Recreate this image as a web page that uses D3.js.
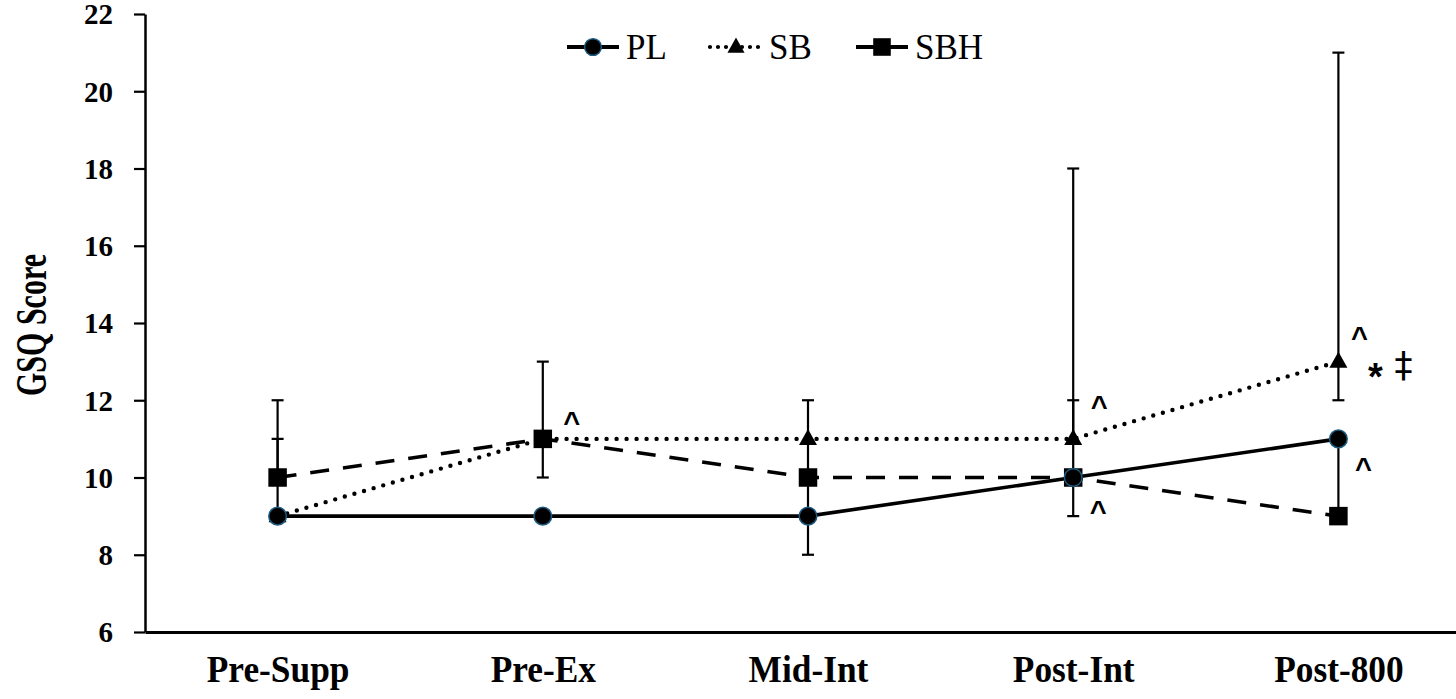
<!DOCTYPE html>
<html>
<head>
<meta charset="utf-8">
<script src="https://cdn.jsdelivr.net/npm/d3@7/dist/d3.min.js"></script>
<style>
  html, body { margin: 0; padding: 0; background: #fff; }
  svg { display: block; }
</style>
</head>
<body>
<svg id="chart" width="1456" height="699"></svg>
<script>
// ---- data ----
const categories = ["Pre-Supp", "Pre-Ex", "Mid-Int", "Post-Int", "Post-800"];
const yTicks = [6, 8, 10, 12, 14, 16, 18, 20, 22];

const PL  = [9, 9, 9, 10, 11];
const SB  = [9, 11, 11, 11, 13];
const SBH = [10, 11, 10, 10, 9];

const PL_up  = [0, 0, 0, 2, 0];
const PL_lo  = [0, 0, 0, 0, 2];
const SB_up  = [2, 0, 0, 7, 8];
const SB_lo  = [0, 1, 0, 0, 1];
const SBH_up = [2, 2, 2, 0, 0];
const SBH_lo = [0, 0, 2, 1, 0];

const seriesNames = ["PL", "SB", "SBH"];

const annotCats   = ["Pre-Ex", "Post-Int", "Post-Int", "Post-800", "Post-800", "Post-800", "Post-800"];
const annotValues = [11.6, 12.0, 9.3, 13.8, 10.4, 12.85, 12.95];
const annotTexts  = ["^", "^", "^", "^", "^", "*", "\u2021"];

// ---- layout ----
const svg = d3.select("#chart");

const x = d3.scalePoint().domain(categories).range([145, 1471]).padding(0.5);
const y = d3.scaleLinear().domain([6, 22]).range([632, 14]);

const serif = "'Liberation Serif', 'Times New Roman', serif";

// y axis
const yAxis = svg.append("g")
  .attr("transform", "translate(145,0)")
  .call(d3.axisLeft(y).tickValues(yTicks).tickSize(11).tickSizeOuter(0).tickPadding(21));
yAxis.select(".domain").attr("stroke", "#000").attr("stroke-width", 2.5);
yAxis.selectAll(".tick line").attr("stroke", "#000").attr("stroke-width", 2.2);
yAxis.selectAll(".tick text")
  .attr("font-family", serif).attr("font-weight", "bold").attr("font-size", 29)
  .attr("fill", "#000").attr("dy", "0.34em");

// x axis
const xAxis = svg.append("g")
  .attr("transform", "translate(0,632)")
  .call(d3.axisBottom(x).tickSize(0).tickSizeOuter(0).tickPadding(23));
xAxis.select(".domain").attr("stroke", "#000").attr("stroke-width", 3);
xAxis.selectAll(".tick text")
  .attr("font-family", serif).attr("font-weight", "bold").attr("font-size", 38)
  .attr("fill", "#000").attr("dy", "0.71em")
  .attr("transform", "scale(0.93,1)");

// y label
svg.append("text")
  .attr("transform", "translate(46,325) rotate(-90)")
  .attr("text-anchor", "middle")
  .attr("font-family", serif).attr("font-weight", "bold").attr("font-size", 44)
  .attr("textLength", 142).attr("lengthAdjust", "spacingAndGlyphs")
  .attr("fill", "#000")
  .text("GSQ Score");

// ---- series ----
const seriesData = {
  PL:  { vals: PL,  up: PL_up,  lo: PL_lo },
  SB:  { vals: SB,  up: SB_up,  lo: SB_lo },
  SBH: { vals: SBH, up: SBH_up, lo: SBH_lo }
};
const lineStyle = {
  PL:  { dash: null,    cap: "butt",  w: 3.6 },
  SB:  { dash: "0,10",  cap: "round", w: 4.4 },
  SBH: { dash: "19,14", cap: "butt",  w: 3.6 }
};

const line = d3.line().x((d, i) => x(categories[i])).y(d => y(d));

// lines
["SBH", "SB", "PL"].forEach(name => {
  const st = lineStyle[name];
  svg.append("path")
    .datum(seriesData[name].vals)
    .attr("d", line)
    .attr("fill", "none")
    .attr("stroke", "#000")
    .attr("stroke-width", st.w)
    .attr("stroke-linecap", st.cap)
    .attr("stroke-dasharray", st.dash);
});

// error bars
const capW = 6;
seriesNames.forEach(name => {
  const s = seriesData[name];
  s.vals.forEach((v, i) => {
    const cx = x(categories[i]);
    const ends = [];
    if (s.up[i] > 0) ends.push(v + s.up[i]);
    if (s.lo[i] > 0) ends.push(v - s.lo[i]);
    ends.forEach(e => {
      svg.append("line")
        .attr("x1", cx).attr("x2", cx)
        .attr("y1", y(v)).attr("y2", y(e))
        .attr("stroke", "#000").attr("stroke-width", 2.2);
      svg.append("line")
        .attr("x1", cx - capW).attr("x2", cx + capW)
        .attr("y1", y(e)).attr("y2", y(e))
        .attr("stroke", "#000").attr("stroke-width", 2.2);
    });
  });
});

// markers
function drawMarker(g, name, cx, cy, scale) {
  scale = scale || 1;
  if (name === "PL") {
    g.append("circle").attr("cx", cx).attr("cy", cy).attr("r", 8.8 * scale)
      .attr("fill", "#000").attr("stroke", "#1d5a80").attr("stroke-width", 1.5);
  } else if (name === "SB") {
    const w = 18 * scale, h = 16 * scale;
    g.append("path")
      .attr("d", `M${cx},${cy - h * 0.62} L${cx + w / 2},${cy + h * 0.38} L${cx - w / 2},${cy + h * 0.38} Z`)
      .attr("fill", "#000");
  } else {
    const s = 18.5 * scale;
    g.append("rect").attr("x", cx - s / 2).attr("y", cy - s / 2)
      .attr("width", s).attr("height", s).attr("fill", "#000");
  }
}

const markG = svg.append("g");
["SBH", "SB", "PL"].forEach(name => {
  seriesData[name].vals.forEach((v, i) => {
    drawMarker(markG, name, x(categories[i]), y(v));
  });
});

// annotations
const annotDx = [29, 26, 25, 21, 25, 37, 65];
annotTexts.forEach((t, i) => {
  const cx = x(annotCats[i]) + annotDx[i];
  const cy = y(annotValues[i]);
  if (t === "^") {
    svg.append("text")
      .attr("x", cx).attr("y", cy + 16)
      .attr("text-anchor", "middle")
      .attr("font-family", "'Liberation Sans', Arial, sans-serif")
      .attr("font-weight", "bold").attr("font-size", 29)
      .attr("fill", "#000").text(t);
  } else if (t === "*") {
    svg.append("text")
      .attr("x", cx).attr("y", cy + 23)
      .attr("text-anchor", "middle")
      .attr("font-family", "'Liberation Sans', Arial, sans-serif")
      .attr("font-weight", "bold").attr("font-size", 38)
      .attr("fill", "#000").text(t);
  } else {
    svg.append("text")
      .attr("x", cx).attr("y", cy + 13)
      .attr("text-anchor", "middle")
      .attr("font-family", "'DejaVu Sans', sans-serif")
      .attr("font-size", 36)
      .attr("fill", "#000").text(t);
  }
});

// legend
const legend = svg.append("g");
const legX = [567, 710, 856];
const legY = 47;
seriesNames.forEach((name, i) => {
  const x0 = legX[i], x1 = x0 + 52, xm = (x0 + x1) / 2;
  legend.append("line")
    .attr("x1", x0).attr("x2", x1).attr("y1", legY).attr("y2", legY)
    .attr("stroke", "#000").attr("stroke-width", name === "SB" ? 4.2 : 3.8)
    .attr("stroke-linecap", name === "SB" ? "round" : "butt")
    .attr("stroke-dasharray", name === "SB" ? "0,8" : null);
  drawMarker(legend, name, xm, legY, 0.95);
  legend.append("text")
    .attr("x", x1 + 7).attr("y", legY + 12)
    .attr("font-family", serif).attr("font-size", 35)
    .attr("fill", "#000").text(name);
});
</script>
</body>
</html>
